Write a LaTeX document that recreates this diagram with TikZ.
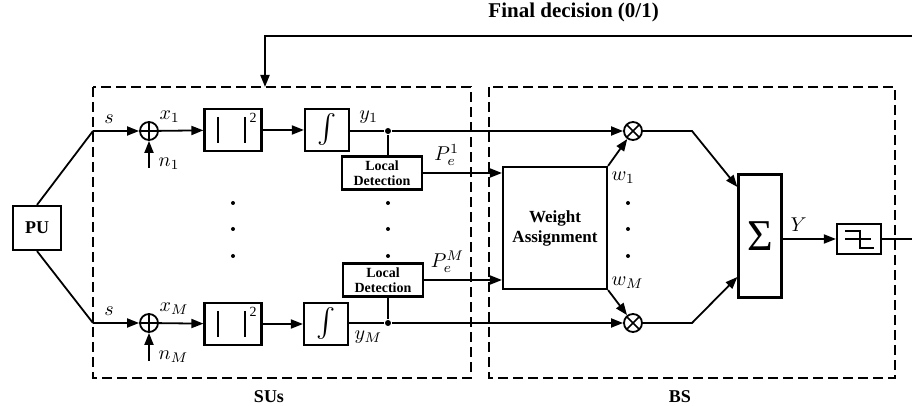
\documentclass[tikz,border=0pt]{standalone}
\usepackage{amsmath,amssymb}
\usepackage{fontspec}
\setmainfont{Liberation Serif}
\usetikzlibrary{arrows.meta,positioning,calc}

\begin{document}
\begin{tikzpicture}[x=0.5pt, y=-0.5pt, line width=0.9pt,
    >={Triangle[length=6pt,width=4.5pt]},
    blk/.style={draw, line width=1.1pt, inner sep=0pt, align=center},
    grp/.style={draw, dash pattern=on 5pt off 2.5pt, line width=1pt},
    addc/.style={circle, draw, minimum size=9pt, inner sep=0pt,
      path picture={\draw[line width=0.8pt]
        (path picture bounding box.north) -- (path picture bounding box.south)
        (path picture bounding box.west) -- (path picture bounding box.east);}},
    mulc/.style={circle, draw, minimum size=9pt, inner sep=0pt,
      path picture={\draw[line width=0.8pt]
        (path picture bounding box.north west) -- (path picture bounding box.south east)
        (path picture bounding box.north east) -- (path picture bounding box.south west);}},
    sqbox/.style={blk, minimum width=28.5pt, minimum height=21pt,
      path picture={\draw[line width=1pt]
        ($(path picture bounding box.center)+(-15,-13)$) -- ++(0,26)
        ($(path picture bounding box.center)+(12,-13)$) -- ++(0,26);
        \node[font=\scriptsize, inner sep=0pt] at ($(path picture bounding box.center)+(20,-12)$) {2};}},
    ldbox/.style={blk, minimum width=40pt, minimum height=16.5pt,
      font=\bfseries\fontsize{7}{7.5}\selectfont},
    jdot/.style={circle, fill, inner sep=0pt, minimum size=3pt},
    vdot/.style={circle, fill, inner sep=0pt, minimum size=2pt}]
  \useasboundingbox (0,0) rectangle (912,406);

  % groups
  \draw[grp] (93,87) rectangle (471,378);
  \draw[grp] (489,87) rectangle (895,378);
  \node[font=\bfseries\small] (sulbl) at (269,397) {SUs};
  \node[font=\bfseries\small] (bslbl) at (680,397) {BS};

  % primary user
  \node[blk, minimum width=24pt, minimum height=22pt, font=\bfseries\small] (pu) at (37,228) {PU};
  \coordinate (s1) at (93,131);
  \coordinate (sM) at (93,323);
  \draw (pu.north) -- (s1);
  \draw (pu.south) -- (sM);

  % upper SU
  \node[addc] (add1) at (149,131) {};
  \node[sqbox] (sq1) at (233,130) {};
  \node[blk, minimum width=22pt, minimum height=21pt] (int1) at (327,130) {\Large$\int$};
  \node[jdot] (j1) at (388,131) {};
  \node[ldbox] (ld1) at (382,173) {Local\\Detection};
  \coordinate (nz1) at (149,168);
  \draw[->] (s1) -- node[above, pos=0.35] {$s$} (add1);
  \draw[->] (nz1) node[right, xshift=1pt, yshift=2pt] {$n_1$} -- (add1);
  \node[above right=-3pt and -2pt of add1] (x1lbl) {$x_1$};
  \draw[->] (add1) -- (sq1);
  \draw[->] (sq1) -- (int1);
  \draw (int1.east |- j1) -- node[above, pos=0.55] {$y_1$} (j1);
  \draw (j1) -- (j1 |- ld1.north);

  % lower SU
  \node[addc] (addM) at (149,323) {};
  \node[sqbox] (sqM) at (233,324) {};
  \node[blk, minimum width=22pt, minimum height=21pt] (intM) at (326,324) {\Large$\int$};
  \node[jdot] (jM) at (388,323) {};
  \node[ldbox] (ldM) at (383,280) {Local\\Detection};
  \coordinate (nzM) at (149,361);
  \draw[->] (sM) -- node[above, pos=0.35] {$s$} (addM);
  \draw[->] (nzM) node[right, xshift=1pt, yshift=2pt] {$n_M$} -- (addM);
  \node[above right=-3pt and -2pt of addM] (xMlbl) {$x_M$};
  \draw[->] (addM) -- (sqM);
  \draw[->] (sqM) -- (intM);
  \draw (intM.east |- jM) -- node[below, pos=0.55] {$y_M$} (jM);
  \draw (jM) -- (jM |- ldM.south);

  % vertical dots
  \foreach \yy in {203,229,256} {
    \node[vdot] at (233,\yy) {};
    \node[vdot] at (388,\yy) {};
    \node[vdot] at (628,\yy) {};
  }

  % base station
  \node[blk, minimum width=52pt, minimum height=61pt, font=\bfseries\fontsize{8.5}{10}\selectfont] (wa) at (555,228) {Weight\\Assignment};
  \node[mulc] (mul1) at (633,131) {};
  \node[mulc] (mulM) at (633,323) {};
  \draw[->] (ld1.east) -- node[above, pos=0.3] {$P_e^1$} (ld1.east -| wa.west);
  \draw[->] (ldM.east) -- node[above, pos=0.3] {$P_e^M$} (ldM.east -| wa.west);
  \draw[->] (j1) -- (mul1);
  \draw[->] (jM) -- (mulM);
  \draw[->] (wa.north east) node[below right=-1pt and -2pt] {$w_1$} -- (mul1);
  \draw[->] (wa.south east) node[above right=-3pt and -2pt] {$w_M$} -- (mulM);

  \node[blk, minimum width=21.5pt, minimum height=61.5pt] (sum) at (760,236) {\fontsize{22}{22}\selectfont Σ};
  \draw[->] (mul1) -- (692,131) -- ($(sum.west)+(0,-49)$);
  \draw[->] (mulM) -- (692,323) -- ($(sum.west)+(0,41)$);

  \node[blk, minimum width=22pt, minimum height=15pt] (thr) at (859,239) {};
  \draw[line width=1pt] ($(thr.center)+(-14,-8)$) -- ($(thr.center)+(1,-8)$) -- ($(thr.center)+(1,9)$) -- ($(thr.center)+(15,9)$);
  \draw[line width=1pt] ($(thr.center)+(-14,0)$) -- ($(thr.center)+(12,0)$);
  \draw[->] (sum.east |- thr) -- node[above, pos=0.3] {$Y$} (thr);

  % final decision feedback
  \coordinate (out) at (912,239);
  \coordinate (fbR) at (912,36);
  \coordinate (fbL) at (265,36);
  \draw (thr) -- (out);
  \draw[->] (fbR) -- node[above=3pt, pos=0.523, font=\bfseries\fontsize{10.5}{12}\selectfont] {Final decision (0/1)} (fbL) -- (265,87);
\end{tikzpicture}
\end{document}
